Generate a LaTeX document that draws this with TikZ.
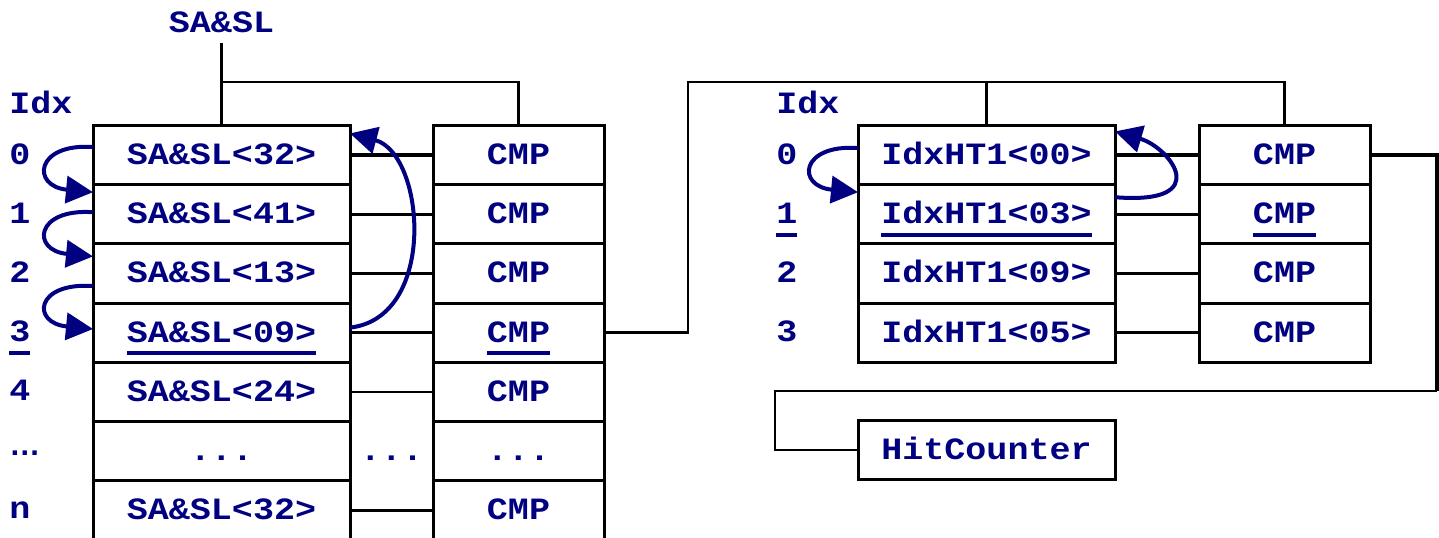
\documentclass[tikz,border=0pt]{standalone}
\usepackage{fontspec}
\setmonofont[FakeStretch=1.13]{Liberation Mono}
\newfontfamily\dotsfont{Liberation Sans}
\usetikzlibrary{positioning,arrows.meta}
\definecolor{navy}{RGB}{0,0,128}

% thick underline for the entry that is hit
\newcommand{\ulbold}[1]{\setbox0\hbox{#1}\rlap{\smash{\raisebox{-6.5pt}{\rule{\wd0}{2pt}}}}\box0}

\begin{document}
\begin{tikzpicture}[x=0.5pt, y=-0.5pt,
    every node/.style={text=navy, font=\ttfamily\bfseries\fontsize{15.5pt}{18pt}\selectfont},
    plain/.style={inner sep=0pt, text height=11.5pt, text depth=2pt},
    idx/.style={plain, anchor=west},
    cell/.style={plain, draw=black, line width=1.5pt, outer sep=0pt, minimum width=128.5pt, minimum height=29.6pt},
    cmpcell/.style={cell, minimum width=85.5pt},
    link/.style={line width=1.3pt},
    hop/.style={navy, line width=2pt, -{Triangle[length=13.5pt,width=13.5pt]}}]

    \useasboundingbox (0,0) rectangle (1439,537);

    % Search key on top
    \node[plain, inner sep=3pt] (key) at (221.5,23) {SA\&SL};

    % First table: SA&SL entries
    \node[cell] (sa0) at (221.5,155) {SA\&SL<32>};
    \node[cell, below=0pt of sa0] (sa1) {SA\&SL<41>};
    \node[cell, below=0pt of sa1] (sa2) {SA\&SL<13>};
    \node[cell, below=0pt of sa2] (sa3) {\ulbold{SA\&SL<09>}};
    \node[cell, below=0pt of sa3] (sa4) {SA\&SL<24>};
    \node[cell, below=0pt of sa4] (sa5) {...};
    \node[cell, below=0pt of sa5] (san) {SA\&SL<32>};

    % Comparators of the first table
    \node[cmpcell, right=41.5pt of sa0] (cmp0) {CMP};
    \node[cmpcell, below=0pt of cmp0] (cmp1) {CMP};
    \node[cmpcell, below=0pt of cmp1] (cmp2) {CMP};
    \node[cmpcell, below=0pt of cmp2] (cmp3) {\ulbold{CMP}};
    \node[cmpcell, below=0pt of cmp3] (cmp4) {CMP};
    \node[cmpcell, below=0pt of cmp4] (cmp5) {...};
    \node[cmpcell, below=0pt of cmp5] (cmpn) {CMP};

    % Index column of the first table
    \node[idx] (idxa) at (9,104) {Idx};
    \node[idx] (ia0) at (9,155) {0};
    \node[idx] (ia1) at (9,214) {1};
    \node[idx] (ia2) at (9,273) {2};
    \node[idx] (ia3) at (9,332) {\ulbold{3}};
    \node[idx] (ia4) at (9,391) {4};
    \node[idx] (iadots) at (9,446) {{\dotsfont …}};
    \node[idx] (ian) at (9,509) {n};

    % Entries to comparators
    \draw[link, line width=1.8pt] (sa0) -- (cmp0);
    \draw[link] (sa1) -- (cmp1);
    \draw[link] (sa2) -- (cmp2);
    \draw[link] (sa3) -- (cmp3);
    \draw[link] (sa4) -- (cmp4);
    \path (sa5.east) -- (cmp5.west) node[plain, midway] (gapdots) {...};
    \draw[link] (san) -- (cmpn);

    % Key feeds both columns
    \coordinate (fork) at (221.5,82);
    \draw[link] (key) -- (sa0);
    \draw[link] (fork) -| (cmp0);

    % Second table: IdxHT1 entries
    \node[cell] (ht0) at (986.5,155) {IdxHT1<00>};
    \node[cell, below=0pt of ht0] (ht1) {\ulbold{IdxHT1<03>}};
    \node[cell, below=0pt of ht1] (ht2) {IdxHT1<09>};
    \node[cell, below=0pt of ht2] (ht3) {IdxHT1<05>};

    \node[cmpcell, right=42pt of ht0] (hcmp0) {CMP};
    \node[cmpcell, below=0pt of hcmp0] (hcmp1) {\ulbold{CMP}};
    \node[cmpcell, below=0pt of hcmp1] (hcmp2) {CMP};
    \node[cmpcell, below=0pt of hcmp2] (hcmp3) {CMP};

    \node[idx] (idxb) at (776,104) {Idx};
    \node[idx] (ib0) at (776,155) {0};
    \node[idx] (ib1) at (776,214) {\ulbold{1}};
    \node[idx] (ib2) at (776,273) {2};
    \node[idx] (ib3) at (776,332) {3};

    \draw[link, line width=1.8pt] (ht0) -- (hcmp0);
    \draw[link] (ht1) -- (hcmp1);
    \draw[link] (ht2) -- (hcmp2);
    \draw[link] (ht3) -- (hcmp3);

    % Hit counter
    \node[cell] (hit) at (986.5,450) {HitCounter};

    % Matching comparator drives the second table
    \coordinate (bus) at (688,82);
    \draw[link] (cmp3) -| (bus) -| (hcmp0);
    \draw[link] (bus -| ht0) -- (ht0);

    % Second match goes to the counter
    \coordinate (turn) at (1437,391);
    \coordinate (back) at (775,391);
    \draw[link, line width=1.8pt] (hcmp0) -| (turn);
    \draw[link] (turn) -- (back) |- (hit);

    % Move-to-front steps
    \draw[hop] ([yshift=4pt]sa0.west) .. controls +(-58,-4) and +(-62,-6) .. ([yshift=11pt]sa1.west);
    \draw[hop] ([yshift=1pt]sa1.west) .. controls +(-58,-4) and +(-62,-6) .. ([yshift=8.5pt]sa2.west);
    \draw[hop] ([yshift=-6.3pt]sa2.west) .. controls +(-58,-4) and +(-62,-6) .. ([yshift=1.8pt]sa3.west);
    \draw[hop] ([yshift=2.5pt]sa3.east) .. controls +(88,-10) and +(75,20) .. ([yshift=-4pt]sa0.north east);

    \draw[hop] ([yshift=3.5pt]ht0.west) .. controls +(-58,-4) and +(-62,-6) .. ([yshift=11pt]ht1.west);
    \draw[hop] ([yshift=8.5pt]ht1.east) .. controls +(100,8) and +(55,16) .. ([yshift=-3pt]ht0.north east);

\end{tikzpicture}
\end{document}
